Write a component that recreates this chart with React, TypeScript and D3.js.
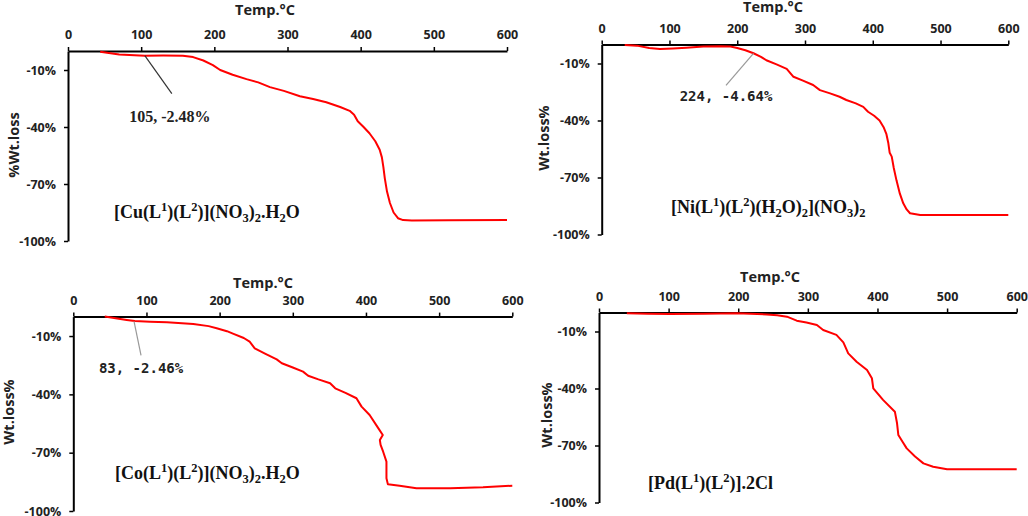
import React, { useEffect, useRef } from "react";
import * as d3 from "d3";

// ---------- DATA ----------
const xTicks = [0, 100, 200, 300, 400, 500, 600];
const yTicks = [-10, -40, -70, -100];

const cuTemp = [44, 70, 105, 130, 157, 171, 185, 198, 208, 225, 244, 260, 276, 295, 317, 335, 353, 372, 385, 391, 396, 404, 412, 420, 426, 429, 431, 433, 436, 440, 445, 451, 458, 470, 520, 600];
const cuLoss = [-0.4, -1.8, -2.5, -2.4, -2.5, -3.2, -5, -7.4, -10, -12.5, -14.8, -16.5, -19, -21, -23.8, -25.3, -27, -29.5, -31.5, -33.5, -37, -40, -43.3, -47.5, -52, -56, -61, -67, -74, -80, -85, -88, -89, -89.2, -89.1, -89];

const niTemp = [34, 52, 70, 86, 105, 125, 150, 175, 190, 200, 212, 224, 235, 243, 258, 273, 283, 297, 312, 322, 337, 351, 361, 375, 386, 393, 402, 410, 416, 420, 423, 425, 428, 431, 435, 440, 445, 450, 455, 470, 600];
const niLoss = [-0.3, -0.6, -1.8, -2.4, -2.1, -1.7, -1.1, -0.9, -1.1, -1.8, -3.0, -4.6, -6.5, -8.3, -10.5, -12.8, -17, -19, -21.3, -24, -25.7, -27.5, -29.2, -31, -32.8, -35.4, -37.5, -40, -43.5, -47, -52, -57, -59, -65, -71.5, -78.5, -83.6, -86.8, -88.8, -89.7, -89.7];

const coTemp = [43, 60, 73, 84, 105, 128, 164, 185, 196, 210, 219, 233, 241, 248, 262, 278, 285, 300, 314, 321, 335, 351, 358, 372, 387, 394, 405, 417, 423, 419, 420, 423.5, 428, 428, 430, 446, 469, 515, 560, 600];
const coLoss = [0, -1, -1.7, -2.3, -2.6, -2.9, -3.8, -4.9, -6, -7.5, -8.9, -11, -12.9, -16.3, -19, -22, -24, -26.2, -28.3, -30.4, -32.3, -34.3, -36.9, -39.2, -42, -46.3, -50.6, -57.5, -60.9, -63.5, -66, -69.5, -74.6, -83.2, -86.3, -87, -88.3, -88.3, -87.8, -87];

const pdTemp = [40, 70, 102, 150, 198, 241, 256, 270, 284, 298, 313, 322, 341, 351, 355, 358, 370, 385, 392, 394, 408, 425, 428, 430, 436, 442, 454, 466, 480, 500, 600];
const pdLoss = [-0.4, -0.7, -0.8, -0.6, -0.4, -1, -1.5, -2.2, -4.3, -5.3, -6.6, -9.2, -11.8, -15.7, -19, -21.5, -25.9, -30.3, -34.6, -39.9, -46, -52.2, -58, -64.5, -68, -71.5, -75.8, -79.4, -81.2, -82.5, -82.5];

const compoundNames = [
  "[Cu(L^1)(L^2)](NO_3)_2.H_2O",
  "[Ni(L^1)(L^2)(H_2O)_2](NO_3)_2",
  "[Co(L^1)(L^2)](NO_3)_2.H_2O",
  "[Pd(L^1)(L^2)].2Cl",
];
const yTitles = ["%Wt.loss", "Wt.loss%", "Wt.loss%", "Wt.loss%"];
const xTitle = "Temp.\u00B0C";
// annotation points [temp, loss] (null = none)
const annotTemp = [105, 224, 83, null];
const annotLoss = [-2.48, -4.64, -2.46, null];

// ---------- LAYOUT ----------
const layouts = [
  { x0: 68, x1: 507, y0: 51, y1: 241, titleX: 265, titleY: 15, yTitleX: 19, yTitleY: 145, nameX: 114, nameY: 218, annot: { lx: 27, ly: 38, tx: 25, ty: 66, font: "serif", stroke: "#333" } },
  { x0: 601.7, x1: 1008.3, y0: 44.5, y1: 234.5, titleX: 773, titleY: 12, yTitleX: 549, yTitleY: 138, nameX: 671, nameY: 213, annot: { lx: -27.5, ly: 32, tx: -27.5, ty: 48, font: "mono", stroke: "#999" } },
  { x0: 73.3, x1: 512.3, y0: 316.6, y1: 511, titleX: 263, titleY: 288, yTitleX: 14, yTitleY: 412, nameX: 115, nameY: 479, annot: { lx: 7, ly: 34, tx: 7, ty: 52, font: "mono", stroke: "#999" } },
  { x0: 599, x1: 1016.7, y0: 312.5, y1: 502.5, titleX: 770, titleY: 282, yTitleX: 552, yTitleY: 415, nameX: 648, nameY: 489, annot: null as any },
];

const series = [
  [cuTemp, cuLoss],
  [niTemp, niLoss],
  [coTemp, coLoss],
  [pdTemp, pdLoss],
];

const SANS = "'Open Sans', 'Noto Sans', sans-serif";
const SERIF = "'Liberation Serif', 'Times New Roman', serif";
const MONO = "'DejaVu Sans Mono', 'Liberation Mono', monospace";

function addRichText(sel: any, text: string) {
  // ^x superscript, _x subscript (single char)
  const segs: { t: string; kind: string }[] = [];
  let buf = "";
  let i = 0;
  while (i < text.length) {
    const c = text[i];
    if ((c === "^" || c === "_") && i + 1 < text.length) {
      if (buf) segs.push({ t: buf, kind: "n" });
      buf = "";
      segs.push({ t: text[i + 1], kind: c === "^" ? "sup" : "sub" });
      i += 2;
    } else {
      buf += c;
      i++;
    }
  }
  if (buf) segs.push({ t: buf, kind: "n" });
  let cur = 0;
  segs.forEach(s => {
    const target = s.kind === "sup" ? -7 : s.kind === "sub" ? 4 : 0;
    const ts = sel.append("tspan").attr("dy", target - cur).text(s.t);
    if (s.kind !== "n") ts.attr("font-size", 12.5);
    cur = target;
  });
}

export default function App() {
  const ref = useRef<SVGSVGElement>(null);

  useEffect(() => {
    const svg = d3.select(ref.current);
    svg.selectAll("*").remove();

    layouts.forEach((L, k) => {
      const g = svg.append("g");
      const x = d3.scaleLinear().domain([0, 600]).range([L.x0, L.x1]);
      const y = d3.scaleLinear().domain([0, -100]).range([L.y0, L.y1]);

      // x axis (top)
      const xa = g.append("g").attr("transform", `translate(0,${L.y0})`)
        .call(d3.axisTop(x).tickValues(xTicks).tickSize(4).tickSizeOuter(0).tickPadding(8).tickFormat(d3.format("d")) as any);
      xa.attr("font-size", 12.5).attr("font-family", SANS);
      xa.select(".domain").attr("stroke", "#000").attr("stroke-width", 2);
      xa.selectAll(".tick line").attr("stroke", "#000").attr("stroke-width", 1.5);
      xa.selectAll(".tick text").attr("font-family", SANS).attr("font-weight", 700).attr("font-size", 12.5).attr("fill", "#222");

      // y axis
      const ya = g.append("g").attr("transform", `translate(${L.x0},0)`)
        .call(d3.axisLeft(y).tickValues(yTicks).tickSize(4).tickSizeOuter(0).tickPadding(8).tickFormat((d: any) => `${d}%`) as any);
      ya.attr("font-size", 12.5).attr("font-family", SANS);
      ya.select(".domain").attr("stroke", "#000").attr("stroke-width", 2);
      ya.selectAll(".tick line").attr("stroke", "#000").attr("stroke-width", 1.5);
      ya.selectAll(".tick text").attr("font-family", SANS).attr("font-weight", 700).attr("font-size", 12.5).attr("fill", "#222");

      // titles
      g.append("text").attr("x", L.titleX).attr("y", L.titleY).attr("text-anchor", "middle")
        .attr("font-family", SANS).attr("font-weight", 700).attr("font-size", 14.5).attr("fill", "#222").text(xTitle);
      g.append("text").attr("transform", `translate(${L.yTitleX},${L.yTitleY}) rotate(-90)`).attr("text-anchor", "middle")
        .attr("font-family", SANS).attr("font-weight", 700).attr("font-size", 14.5).attr("fill", "#222").text(yTitles[k]);

      // line
      const [ts, vs] = series[k];
      const pts = ts.map((t, i) => [t, vs[i]] as [number, number]);
      const line = d3.line<[number, number]>().x(d => x(d[0])).y(d => y(d[1])).curve(d3.curveLinear);
      g.append("path").attr("d", line(pts)).attr("fill", "none").attr("stroke", "#ff0000")
        .attr("stroke-width", 2).attr("stroke-linejoin", "round");

      // annotation
      const at = annotTemp[k];
      const av = annotLoss[k];
      if (at != null && av != null && L.annot) {
        const px = x(at), py = y(av);
        g.append("line").attr("x1", px).attr("y1", py).attr("x2", px + L.annot.lx).attr("y2", py + L.annot.ly)
          .attr("stroke", L.annot.stroke).attr("stroke-width", 1.2);
        const isSerif = L.annot.font === "serif";
        g.append("text").attr("x", px + L.annot.tx).attr("y", py + L.annot.ty).attr("text-anchor", "middle")
          .attr("font-family", isSerif ? SERIF : MONO).attr("font-weight", "bold")
          .attr("font-size", isSerif ? 16 : 14).attr("fill", "#222")
          .text(`${at}, ${av}%`);
      }

      // compound name
      const nt = g.append("text").attr("x", L.nameX).attr("y", L.nameY)
        .attr("font-family", SERIF).attr("font-weight", "bold").attr("font-size", 18).attr("fill", "#111");
      addRichText(nt, compoundNames[k]);
    });
  }, []);

  return (
    <svg ref={ref} width={1028} height={516}
      style={{ position: "absolute", left: 0, top: 0, background: "#fff" }} />
  );
}
